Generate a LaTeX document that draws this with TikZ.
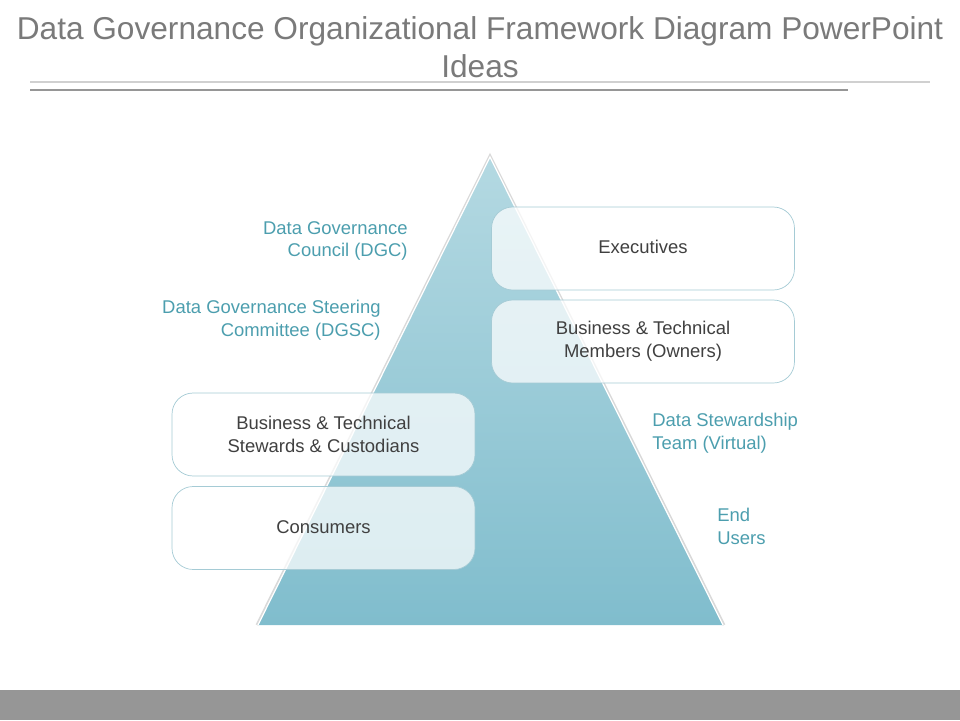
\documentclass[tikz,border=0pt]{standalone}
\usepackage{fontspec}
\setmainfont{Liberation Sans}
\usepackage{tikz}
\usetikzlibrary{calc}
\definecolor{titlegray}{RGB}{122,122,122}
\definecolor{textgray}{RGB}{64,64,64}
\definecolor{labelteal}{RGB}{76,158,174}
\definecolor{pyrtop}{RGB}{180,217,226}
\definecolor{pyrbot}{RGB}{128,189,205}
\definecolor{boxline}{RGB}{165,203,213}
\definecolor{barline}{RGB}{150,150,150}
\colorlet{rulelight}{barline!45}

\begin{document}
\begin{tikzpicture}[x=0.02cm, y=-0.02cm,
    stepbox/.style={draw=boxline, fill=white, fill opacity=0.72, text opacity=1,
        rounded corners=12, minimum width=6.06cm, minimum height=1.66cm,
        align=center, text=textgray, font=\fontsize{10.5}{13}\selectfont},
    tierlabel/.style={text=labelteal, inner sep=0pt, font=\fontsize{10.5}{13}\selectfont}]

    \useasboundingbox (0,0) rectangle (960,720);

    % title and rules
    \node[align=center, text=titlegray, font=\fontsize{18}{21.6}\selectfont] (title) at (480,47.5)
        {Data Governance Organizational Framework Diagram PowerPoint\\Ideas};
    \draw[rulelight, line width=0.6pt] (30,82) -- (930,82);
    \draw[barline, line width=0.6pt] (30,90) -- (848,90);

    % pyramid
    \coordinate (apex) at (490,157);
    \coordinate (baseL) at (258,625);
    \coordinate (baseR) at (723,625);
    \draw[black!15, line width=1.6pt] ($(baseL)+(-1,0)$) -- ($(apex)+(0,-1)$) -- ($(baseR)+(1,0)$);
    \shade[top color=pyrtop, bottom color=pyrbot] (apex) -- (baseL) -- (baseR) -- cycle;
    \draw[white, line width=0.7pt] (baseL) -- (apex) -- (baseR);

    % boxes
    \node[stepbox] (exec) at (643,248.5) {\raisebox{2pt}{Executives}};
    \node[stepbox] (owners) at (643,341.5) {Business \& Technical\\Members (Owners)};
    \node[stepbox] (stewards) at (323.5,434.5) {Business \& Technical\\Stewards \& Custodians};
    \node[stepbox] (consumers) at (323.5,528) {\raisebox{1pt}{Consumers}};

    % tier labels
    \node[tierlabel, anchor=east, align=right] (dgc) at (408,241) {Data Governance\\Council (DGC)};
    \node[tierlabel, anchor=east, align=right] (dgsc) at (381,320) {Data Governance Steering\\Committee (DGSC)};
    \node[tierlabel, anchor=west, align=left] (dst) at (652,433) {Data Stewardship\\Team (Virtual)};
    \node[tierlabel, anchor=west, align=left] (endusers) at (717,526) {End\\Users};

    % footer bar
    \fill[barline] (0,690) rectangle (960,720);

\end{tikzpicture}
\end{document}
